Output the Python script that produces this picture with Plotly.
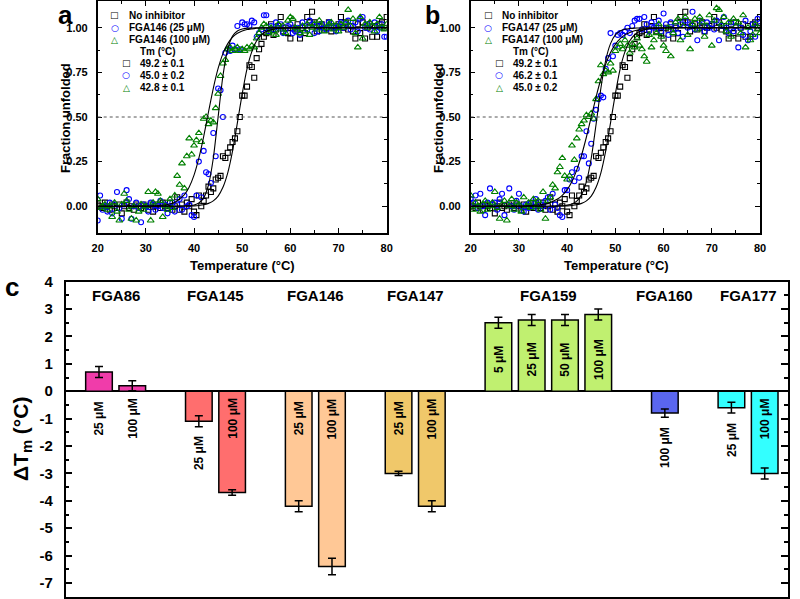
import plotly.graph_objects as go

W, H = 800, 599
FONT = "Arial, Liberation Sans, sans-serif"

# ---------------- panels a / b : thermal unfolding ----------------
# samples every 0.5 degC from 20 to 80
TEMP = [20 + 0.5 * i for i in range(121)]

NO_INHIB = [
    0.01, 0.00, -0.01, 0.02, 0.00, -0.02, 0.01, 0.00, -0.01, 0.01,
    -0.04, 0.00, 0.02, -0.01, 0.00, -0.02, 0.01, 0.00, -0.01, 0.01,
    0.00, -0.02, 0.01, -0.03, 0.00, 0.01, -0.01, 0.02, 0.00, -0.01,
    0.02, -0.02, 0.00, 0.05, -0.02, 0.01, -0.03, 0.02, 0.00, 0.04,
    -0.03, -0.05, 0.06, 0.00, 0.03, 0.06, 0.11, 0.08, 0.10, 0.15,
    0.16, 0.17, 0.28, 0.27, 0.30, 0.33, 0.36, 0.38, 0.42, 0.50,
    0.62, 0.62, 0.67, 0.79, 0.78, 0.72, 0.83, 0.88, 0.91, 0.95,
    0.97, 0.98, 1.02, 0.96, 0.99, 1.01, 1.06, 0.98, 1.00, 0.97,
    0.94, 1.00, 0.99, 1.02, 0.94, 1.00, 0.97, 1.06, 1.03, 1.09,
    1.03, 0.98, 1.01, 1.02, 0.99, 1.00, 1.03, 0.98, 1.00, 1.01,
    1.02, 1.06, 1.00, 1.03, 0.99, 1.01, 0.98, 0.94, 1.02, 0.97,
    1.03, 0.94, 1.00, 1.02, 0.95, 1.01, 0.95, 1.02, 1.03, 1.00,
    1.06]

FGA146_25 = [
    -0.08, 0.06, -0.02, 0.00, -0.03, 0.02, -0.04, 0.01, 0.08, -0.01,
    -0.07, 0.01, 0.09, 0.04, -0.07, 0.00, 0.02, -0.01, -0.09, 0.01,
    0.00, -0.03, 0.02, 0.01, -0.02, 0.00, 0.03, -0.01, 0.01, -0.04,
    0.00, 0.02, -0.03, 0.01, 0.04, -0.02, 0.06, 0.00, 0.01, -0.05,
    -0.06, 0.06, 0.25, 0.05, 0.31, 0.19, 0.18, 0.13, 0.41, 0.28,
    0.66, 0.65, 0.50, 0.86, 0.88, 0.87, 0.90, 0.88, 1.01, 0.88,
    1.03, 1.02, 1.02, 1.01, 1.04, 1.03, 0.95, 0.97, 0.99, 1.07,
    1.07, 0.98, 1.01, 0.99, 1.03, 1.00, 1.02, 0.97, 0.99, 1.01,
    1.02, 0.97, 0.98, 1.00, 0.96, 1.03, 1.01, 0.99, 1.04, 1.02,
    0.97, 1.01, 0.98, 1.02, 1.00, 0.99, 1.03, 1.01, 1.00, 0.98,
    1.01, 1.03, 1.00, 1.02, 1.04, 0.99, 1.01, 1.03, 0.98, 1.05,
    1.06, 1.00, 1.02, 0.99, 1.01, 1.03, 0.98, 1.00, 1.02, 0.95,
    0.95]

FGA146_100 = [
    0.04, -0.01, 0.00, 0.01, -0.02, 0.00, -0.06, 0.02, -0.03, -0.08,
    0.01, 0.07, 0.03, -0.02, -0.07, 0.00, -0.08, -0.03, 0.01, -0.02,
    0.00, 0.08, -0.08, 0.02, 0.08, 0.07, 0.03, -0.06, 0.00, -0.02,
    0.04, -0.01, 0.06, 0.17, 0.12, 0.24, 0.10, 0.28, 0.38, 0.29,
    0.34, 0.37, 0.41, 0.36, 0.49, 0.50, 0.46, 0.48, 0.47, 0.55,
    0.63, 0.73, 0.80, 0.82, 0.88, 0.89, 0.87, 0.88, 0.89, 0.87,
    0.88, 0.87, 0.89, 0.88, 0.90, 0.89, 0.94, 0.97, 1.00, 1.02,
    1.01, 0.97, 1.00, 0.98, 0.96, 1.02, 0.99, 1.01, 0.97, 1.04,
    1.06, 1.05, 1.00, 0.99, 0.97, 1.01, 0.98, 1.02, 0.96, 1.00,
    1.02, 0.99, 1.04, 1.01, 0.98, 1.00, 1.02, 1.03, 0.99, 1.01,
    0.98, 1.02, 1.00, 1.03, 1.10, 1.01, 1.05, 0.97, 0.89, 1.06,
    0.94, 1.02, 1.00, 1.03, 1.01, 0.98, 1.02, 1.06, 1.00, 0.99,
    1.02]

FGA147_25 = [
    0.04, 0.02, 0.06, -0.01, 0.07, 0.00, -0.05, 0.02, 0.10, 0.01,
    0.02, -0.02, 0.04, 0.07, -0.05, 0.01, 0.10, 0.00, -0.02, 0.03,
    0.07, 0.00, -0.03, 0.01, -0.01, 0.02, 0.00, 0.04, -0.02, 0.01,
    0.00, 0.03, 0.05, -0.02, 0.07, 0.01, -0.01, -0.05, -0.06, 0.09,
    0.09, 0.15, 0.19, 0.14, 0.21, 0.16, 0.28, 0.28, 0.42, 0.24,
    0.35, 0.49, 0.54, 0.60, 0.62, 0.61, 0.77, 0.83, 0.97, 0.84,
    0.90, 0.96, 0.97, 0.96, 0.98, 1.00, 0.97, 1.01, 1.04, 1.05,
    1.05, 0.99, 1.06, 1.02, 0.98, 1.03, 1.00, 1.01, 1.04, 0.98,
    1.08, 1.02, 0.96, 1.03, 0.99, 1.01, 0.97, 1.02, 0.95, 1.04,
    1.00, 1.02, 1.09, 0.99, 0.93, 1.04, 1.01, 0.98, 1.03, 1.00,
    1.02, 0.99, 1.04, 0.93, 1.01, 1.06, 1.00, 0.97, 1.03, 0.98,
    1.01, 0.89, 1.00, 0.96, 1.04, 0.93, 0.98, 1.02, 0.95, 1.05,
    1.01]

FGA147_100 = [
    0.06, -0.02, 0.02, 0.00, -0.03, 0.01, 0.03, -0.02, 0.00, 0.02,
    0.08, -0.01, -0.07, 0.01, 0.03, -0.08, 0.00, 0.04, -0.02, 0.02,
    0.01, -0.03, 0.05, 0.00, 0.02, -0.01, 0.04, 0.00, 0.03, -0.02,
    0.08, -0.07, 0.03, 0.05, 0.12, 0.10, 0.19, 0.22, 0.27, 0.17,
    0.15, 0.17, 0.34, 0.26, 0.38, 0.43, 0.46, 0.48, 0.51, 0.50,
    0.52, 0.49, 0.60, 0.70, 0.79, 0.74, 0.76, 0.75, 0.80, 0.76,
    0.87, 0.89, 0.91, 0.88, 0.93, 0.90, 0.86, 0.91, 0.89, 0.94,
    0.90, 0.88, 0.84, 0.81, 0.96, 0.89, 0.93, 0.97, 1.02, 0.95,
    0.90, 0.87, 1.00, 0.84, 0.97, 1.03, 1.05, 0.93, 1.01, 1.06,
    0.96, 0.88, 1.02, 1.05, 0.99, 1.06, 1.03, 0.95, 1.01, 1.07,
    0.90, 1.04, 1.11, 1.10, 1.02, 1.06, 0.98, 1.03, 0.95, 1.05,
    1.01, 1.03, 0.97, 1.07, 0.89, 1.00, 0.93, 0.96, 1.02, 0.99,
    0.97]

# fitted curves
FIT_T = [20, 30, 34, 36, 38, 39, 40, 41, 42, 43, 44, 45, 46, 47, 48, 49,
         50, 51, 52, 53, 54, 55, 57, 60, 65, 80]
FIT_NO_INHIB = [0, 0, 0, 0, 0.001, 0.001, 0.002, 0.004, 0.008, 0.016, 0.030,
                0.057, 0.106, 0.187, 0.31, 0.467, 0.63, 0.77, 0.866, 0.927,
                0.961, 0.979, 0.995, 0.999, 1, 1]
FIT_146_25 = [0, 0, 0, 0, 0.001, 0.002, 0.007, 0.018, 0.047, 0.119, 0.269,
              0.5, 0.731, 0.881, 0.953, 0.982, 0.993, 0.998, 0.999, 1, 1, 1,
              1, 1, 1, 1]
FIT_146_100 = [0, 0.001, 0.007, 0.022, 0.065, 0.108, 0.174, 0.269, 0.39,
               0.528, 0.661, 0.772, 0.855, 0.911, 0.947, 0.969, 0.982, 0.990,
               0.994, 0.997, 0.998, 0.999, 1, 1, 1, 1]
FIT_147_25 = [0, 0, 0, 0, 0.001, 0.002, 0.006, 0.013, 0.029, 0.065, 0.138,
              0.269, 0.458, 0.661, 0.818, 0.911, 0.960, 0.982, 0.992, 0.996,
              0.998, 0.999, 1, 1, 1, 1]
FIT_147_100 = [0, 0.001, 0.007, 0.016, 0.040, 0.061, 0.093, 0.139, 0.204,
               0.287, 0.388, 0.5, 0.612, 0.713, 0.796, 0.861, 0.907, 0.939,
               0.960, 0.974, 0.983, 0.990, 0.996, 0.999, 1, 1]

NAMES_A = ["No inhibitor", "FGA146 (25 μM)", "FGA146 (100 μM)"]
NAMES_B = ["No inhibitor", "FGA147 (25 μM)", "FGA147 (100 μM)"]
TM_A = ["49.2 ± 0.1", "45.0 ± 0.2", "42.8 ± 0.1"]
TM_B = ["49.2 ± 0.1", "46.2 ± 0.1", "45.0 ± 0.2"]
HALF = 0.5

# ---------------- panel c : delta Tm bars ----------------
COMPOUNDS = ["FGA86", "FGA145", "FGA146", "FGA147", "FGA159", "FGA160", "FGA177"]
CONC = [["25 μM", "100 μM"], ["25 μM", "100 μM"], ["25 μM", "100 μM"],
        ["25 μM", "100 μM"], ["5 μM", "25 μM", "50 μM", "100 μM"],
        ["100 μM"], ["25 μM", "100 μM"]]
DTM = [[0.7, 0.2], [-1.1, -3.7], [-4.2, -6.4], [-3.0, -4.2],
       [2.5, 2.6, 2.6, 2.8], [-0.8], [-0.6, -3.0]]
DTM_ERR = [[0.2, 0.18], [0.2, 0.1], [0.2, 0.3], [0.08, 0.2],
           [0.2, 0.2, 0.2, 0.2], [0.15], [0.2, 0.2]]
BAR_COLORS = ["#F03CAA", "#FF6E6E", "#FFC896", "#F0C86A", "#C0F070",
              "#5A66EE", "#33FFFF"]

SERIES_COLORS = ["#000000", "#0000FF", "#008000"]
SYMBOLS = ["square-open", "circle-open", "triangle-up-open"]
GLYPHS = ["□", "○", "△"]


def px(x):
    return x / W


def py(y):
    return 1 - y / H


def note(x, y, text, size, angle=0, xanchor="center", yanchor="middle", color="black",
         family=FONT):
    fig.add_annotation(x=x, y=y, xref="paper", yref="paper", text=text,
                       textangle=angle, showarrow=False, xanchor=xanchor,
                       yanchor=yanchor,
                       font=dict(family=family, size=size, color=color))


fig = go.Figure()

panels = [
    ("x", "y", [NO_INHIB, FGA146_25, FGA146_100], [FIT_NO_INHIB, FIT_146_25, FIT_146_100]),
    ("x2", "y2", [NO_INHIB, FGA147_25, FGA147_100], [FIT_NO_INHIB, FIT_147_25, FIT_147_100]),
]
for xa, ya, series, fits in panels:
    for ys, col, sym in zip(series, SERIES_COLORS, SYMBOLS):
        fig.add_trace(go.Scatter(
            x=TEMP, y=ys, mode="markers", xaxis=xa, yaxis=ya, showlegend=False,
            hoverinfo="skip",
            marker=dict(symbol=sym, size=5 if sym != "triangle-up-open" else 6,
                        color=col, line=dict(width=1.1, color=col))))
    for f in fits:
        fig.add_trace(go.Scatter(
            x=FIT_T, y=f, mode="lines", xaxis=xa, yaxis=ya, showlegend=False,
            hoverinfo="skip",
            line=dict(color="black", width=1.1, shape="spline", smoothing=0.6)))
    fig.add_shape(type="line", xref=xa, yref=ya, x0=20, x1=80, y0=HALF, y1=HALF,
                  line=dict(color="#555555", width=1, dash="dot"))

# bars
pos = 0
bar_x, bar_y, bar_e, bar_c = [], [], [], []
for i, comp in enumerate(COMPOUNDS):
    start = pos
    for j, v in enumerate(DTM[i]):
        bar_x.append(pos)
        bar_y.append(v)
        bar_e.append(DTM_ERR[i][j])
        bar_c.append(BAR_COLORS[i])
        lab = dict(x=pos, xref="x3", yref="y3", text="<b>%s</b>" % CONC[i][j],
                   textangle=-90, showarrow=False, xanchor="center",
                   font=dict(family=FONT, size=12, color="black"))
        if v > 1.5:
            lab.update(y=1.15, yanchor="middle")
        elif v > 0 or v < -2.5:
            lab.update(y=-1.0, yanchor="middle")
        else:
            lab.update(y=v - DTM_ERR[i][j] - 0.27, yanchor="top")
        fig.add_annotation(**lab)
        pos += 1
    fig.add_annotation(x=(start + pos - 1) / 2, y=3.5, xref="x3", yref="y3",
                       text="<b>%s</b>" % comp, showarrow=False,
                       xanchor="center", yanchor="middle",
                       font=dict(family=FONT, size=15, color="black"))
    pos += 1

fig.add_trace(go.Bar(
    x=bar_x, y=bar_y, xaxis="x3", yaxis="y3", width=0.8, showlegend=False,
    hoverinfo="skip",
    marker=dict(color=bar_c, line=dict(color="black", width=1.5)),
    error_y=dict(type="data", array=bar_e, color="black", thickness=1.5, width=4)))

# legends drawn as text
for left, names, tms in [(115, NAMES_A, TM_A), (488, NAMES_B, TM_B)]:
    for k in range(3):
        yy = 15 + 12.5 * k
        note(px(left), py(yy), GLYPHS[k], 9, color=SERIES_COLORS[k], family="DejaVu Sans")
        note(px(left + 12), py(yy), "<b>%s</b>" % names[k], 10, xanchor="left")
    note(px(left + 23), py(52), "<b>Tm (°C)</b>", 10, xanchor="left")
    for k in range(3):
        yy = 63 + 12.5 * k
        note(px(left + 11), py(yy), GLYPHS[k], 9, color=SERIES_COLORS[k], family="DejaVu Sans")
        note(px(left + 23), py(yy), "<b>%s</b>" % tms[k], 10, xanchor="left")

# axis titles and panel letters
note(px(65), py(118), "<b>Fraction unfolded</b>", 13, angle=-90)
note(px(438), py(118), "<b>Fraction unfolded</b>", 13, angle=-90)
note(px(242), py(265), "<b>Temperature (°C)</b>", 13)
note(px(616), py(265), "<b>Temperature (°C)</b>", 13)
note(px(22), py(439), "<b>ΔT<sub>m</sub> (°C)</b>", 21, angle=-90)
note(px(65), py(15), "<b>a</b>", 26)
note(px(432), py(15), "<b>b</b>", 25)
note(px(12), py(287), "<b>c</b>", 26)

tick_font = dict(family=FONT, size=11, color="black", weight="bold")
base = dict(showline=True, linecolor="black", linewidth=1.5, mirror="ticks",
            ticks="inside", tickcolor="black", tickwidth=1.2, showgrid=False,
            zeroline=False, tickfont=tick_font, automargin=False)
xa_common = dict(base, range=[20, 80], tickvals=[20, 30, 40, 50, 60, 70, 80], ticklen=5,
                 minor=dict(tickvals=[25, 35, 45, 55, 65, 75], ticklen=3, ticks="inside",
                            tickcolor="black", tickwidth=1.2),
                 ticklabelstandoff=4)
ya_common = dict(base, range=[-0.15, 1.15], tickvals=[0, 0.25, 0.5, 0.75, 1.0],
                 tickformat=".2f", ticklen=5,
                 minor=dict(tickvals=[0.125, 0.375, 0.625, 0.875], ticklen=3,
                            ticks="inside", tickcolor="black", tickwidth=1.2),
                 ticklabelstandoff=6)

c_ticks = [4, 3, 2, 1, 0, -1, -2, -3, -4, -5, -6, -7]
fig.update_layout(
    width=W, height=H, margin=dict(l=0, r=0, t=0, b=0, pad=0),
    paper_bgcolor="white", plot_bgcolor="white",
    font=dict(family=FONT, color="black"),
    xaxis=dict(xa_common, domain=[px(97.7), px(386.7)], anchor="y"),
    yaxis=dict(ya_common, domain=[py(233), py(1)], anchor="x"),
    xaxis2=dict(xa_common, domain=[px(470.7), px(760)], anchor="y2"),
    yaxis2=dict(ya_common, domain=[py(233), py(1)], anchor="x2"),
    xaxis3=dict(showline=True, linecolor="black", linewidth=1.5, mirror=True,
                showticklabels=False, ticks="", showgrid=False, zeroline=False,
                automargin=False,
                range=[-1, 20.7], domain=[px(65.7), px(788)], anchor="y3"),
    yaxis3=dict(showline=True, linecolor="black", linewidth=1.5, mirror="ticks",
                ticks="inside", ticklen=7, tickwidth=1.5, tickcolor="black",
                tickvals=c_ticks, ticktext=[str(v) for v in c_ticks],
                minor=dict(dtick=0.5, tick0=0, ticklen=4, ticks="inside",
                           tickcolor="black", tickwidth=1.5),
                showgrid=False, zeroline=True, zerolinecolor="black", zerolinewidth=1.5,
                automargin=False,
                range=[-7.5, 4], domain=[py(596.7), py(281.6)], anchor="x3",
                tickfont=dict(family=FONT, size=15, color="black", weight="bold"),
                ticklabelstandoff=8),
)

fig.write_html("out.html", config={"displayModeBar": False},
               post_script="document.body.style.margin='0px';")
